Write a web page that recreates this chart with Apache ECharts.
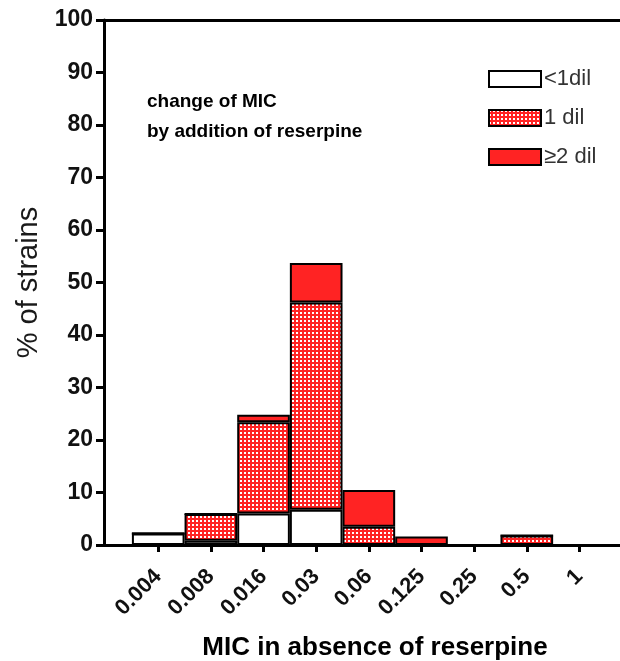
<!DOCTYPE html>
<html style="height: 100%">
<head>
    <meta charset="utf-8">
    <script src="https://cdn.jsdelivr.net/npm/echarts@6/dist/echarts.min.js"></script>
    <title>MIC histogram</title>
</head>
<body style="height: 100%; margin: 0; background: #fff">
    <div id="container" style="width: 620px; height: 661px"></div>
    <script type="text/javascript">
        // MIC classes (x axis) and % of strains per change category
        const categories = ['0.004', '0.008', '0.016', '0.03', '0.06', '0.125', '0.25', '0.5', '1'];
        const lessThan1Dil = [2.2, 0.8, 6.0, 6.7, 0, 0, 0, 0, 0];
        const oneDil = [0, 5.1, 17.4, 39.5, 3.5, 0, 0, 1.8, 0];
        const twoPlusDil = [0, 0, 1.4, 7.5, 7.0, 1.6, 0, 0, 0];
        const seriesNames = ['<1dil', '1 dil', '\u22652 dil'];

        const RED = '#ff2323';

        // small dotted tile for the "1 dil" fill
        function dotPattern() {
            let c = document.createElement('canvas');
            c.width = 4; c.height = 4;
            let ctx = c.getContext('2d');
            ctx.fillStyle = RED;
            ctx.fillRect(0, 0, 4, 4);
            ctx.fillStyle = '#ffffff';
            ctx.fillRect(0, 0, 2, 2);
            return c;
        }

        const tickIdx = categories.map((c, i) => i);
        const xMin = -1.03, xMax = 8.77;
        const font = 'Arial';

        let dom = document.getElementById('container');
        let chart = echarts.init(dom, null, { renderer: 'canvas' });

        function barSeries(name, data, color) {
            return {
                name: name,
                type: 'bar',
                stack: 'mic',
                xAxisIndex: 2,
                yAxisIndex: 1,
                data: data,
                barCategoryGap: 0,
                itemStyle: {
                    color: color,
                    borderColor: '#000',
                    borderWidth: 2
                }
            };
        }

        let option = {
            animation: false,
            backgroundColor: '#fff',
            title: {
                text: 'change of MIC\nby addition of reserpine',
                left: 142,
                top: 82,
                textStyle: {
                    fontFamily: font,
                    fontSize: 19,
                    fontWeight: 'bold',
                    color: '#000',
                    lineHeight: 30
                }
            },
            legend: {
                orient: 'vertical',
                left: 488,
                top: 68,
                padding: 0,
                itemWidth: 52,
                itemHeight: 16,
                itemGap: 17,
                icon: 'rect',
                textStyle: {
                    fontFamily: font,
                    fontSize: 22,
                    color: '#333',
                    padding: [0, 0, 0, -2]
                },
                data: seriesNames
            },
            grid: [
                // visible axes frame
                { left: 104, right: 0, top: 20, bottom: 116, outerBoundsMode: 'none', containLabel: false },
                // bars, placed on the MIC classes of the frame axis
                { left: 132, width: 475, top: 20, bottom: 116, outerBoundsMode: 'none', containLabel: false }
            ],
            xAxis: [{
                gridIndex: 0,
                type: 'value',
                min: xMin,
                max: xMax,
                splitLine: { show: false },
                axisLine: { show: true, onZero: false, lineStyle: { color: '#000', width: 3 } },
                axisTick: {
                    show: true,
                    customValues: tickIdx,
                    length: 7,
                    lineStyle: { color: '#000', width: 3 }
                },
                axisLabel: {
                    customValues: tickIdx,
                    formatter: v => categories[Math.round(v)],
                    rotate: 45,
                    margin: 28,
                    fontFamily: font,
                    fontSize: 22,
                    fontWeight: 'bold',
                    color: '#111'
                },
                name: 'MIC in absence of reserpine',
                nameLocation: 'middle',
                nameGap: 90,
                nameTextStyle: {
                    fontFamily: font,
                    fontSize: 26,
                    fontWeight: 'bold',
                    color: '#000',
                    padding: [0, 0, 0, 26]
                }
            }, {
                // top frame line
                gridIndex: 0,
                type: 'value',
                position: 'top',
                min: xMin,
                max: xMax,
                splitLine: { show: false },
                axisLine: { show: true, onZero: false, lineStyle: { color: '#000', width: 3 } },
                axisTick: { show: false },
                axisLabel: { show: false }
            }, {
                gridIndex: 1,
                type: 'category',
                data: categories,
                boundaryGap: true,
                show: false
            }],
            yAxis: [{
                gridIndex: 0,
                type: 'value',
                min: 0,
                max: 100,
                interval: 10,
                splitLine: { show: false },
                axisLine: { show: true, onZero: false, lineStyle: { color: '#000', width: 3 } },
                axisTick: { show: true, length: 8, lineStyle: { color: '#000', width: 3 } },
                axisLabel: {
                    margin: 11,
                    fontFamily: font,
                    fontSize: 23,
                    fontWeight: 'bold',
                    color: '#111'
                },
                name: '% of strains',
                nameLocation: 'middle',
                nameGap: 60,
                nameTextStyle: {
                    fontFamily: font,
                    fontSize: 29,
                    color: '#1a1a1a'
                }
            }, {
                gridIndex: 1,
                type: 'value',
                min: 0,
                max: 100,
                show: false
            }],
            series: [
                barSeries(seriesNames[0], lessThan1Dil, '#ffffff'),
                barSeries(seriesNames[1], oneDil, { image: dotPattern(), repeat: 'repeat' }),
                barSeries(seriesNames[2], twoPlusDil, RED)
            ]
        };

        chart.setOption(option);

        // fit the bar grid to the class bands (-0.5 .. 8.5) of the frame axis
        let x0 = chart.convertToPixel({ xAxisIndex: 0 }, -0.5);
        let x1 = chart.convertToPixel({ xAxisIndex: 0 }, categories.length - 0.5);
        chart.setOption({
            grid: [{}, { left: x0, width: x1 - x0 }]
        });
    </script>
</body>
</html>
